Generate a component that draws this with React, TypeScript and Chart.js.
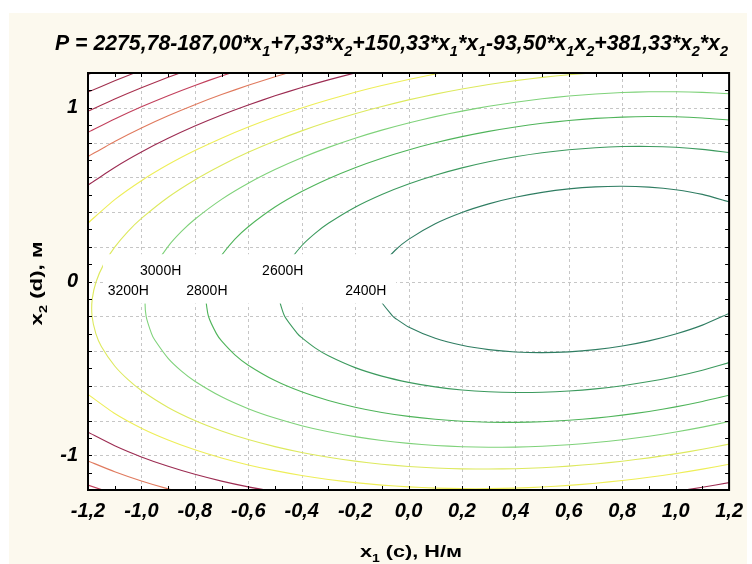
import React, { useEffect, useRef } from 'react';
import { Chart, registerables } from 'chart.js';

Chart.register(...registerables);

type Pt = [number, number];

// ---- contour levels (P, H) ----
const levels = [2300, 2400, 2500, 2600, 2700, 2800, 2900, 3000, 3100, 3200, 3300, 3400];

// ---- contour lines: [x1, x2] ----
const c2300: Pt[] = [[1.2,0.4587],[1.1,0.5015],[1.0,0.5283],[0.9,0.543],[0.8,0.5482],[0.7,0.5446],[0.6,0.5329],[0.5,0.513],[0.4,0.4845],[0.3,0.4466],[0.2,0.3971],[0.1,0.3322],[0.0,0.2426],[-0.05,0.1799],[-0.0935,0.1],[-0.1183,0.0],[-0.109,-0.1],[-0.0589,-0.2],[-0.05,-0.2113],[0.0,-0.2618],[0.1,-0.327],[0.2,-0.3673],[0.3,-0.3922],[0.4,-0.4057],[0.5,-0.4096],[0.6,-0.4051],[0.7,-0.3922],[0.8,-0.3712],[0.9,-0.3416],[1.0,-0.3023],[1.1,-0.2511],[1.2,-0.1837]];
const c2400: Pt[] = [[1.2,0.742],[1.1,0.7607],[1.0,0.7723],[0.9,0.7774],[0.8,0.7766],[0.7,0.7702],[0.6,0.7583],[0.5,0.741],[0.4,0.7179],[0.3,0.6891],[0.2,0.6539],[0.1,0.6116],[0.0,0.5612],[-0.1,0.5008],[-0.2,0.4275],[-0.3,0.3348],[-0.35,0.277],[-0.4,0.2058],[-0.4526,0.1],[-0.4795,0.0],[-0.4838,-0.1],[-0.4639,-0.2],[-0.4159,-0.3],[-0.4,-0.3232],[-0.35,-0.382],[-0.3,-0.4276],[-0.2,-0.4957],[-0.1,-0.5446],[0.0,-0.5804],[0.1,-0.6064],[0.2,-0.6241],[0.3,-0.6347],[0.4,-0.6391],[0.5,-0.6376],[0.6,-0.6305],[0.7,-0.6178],[0.8,-0.5996],[0.9,-0.576],[1.0,-0.5463],[1.1,-0.5103],[1.2,-0.467]];
const c2500: Pt[] = [[1.2,0.9298],[1.1,0.9413],[1.0,0.9478],[0.9,0.9493],[0.8,0.9463],[0.7,0.9387],[0.6,0.9267],[0.5,0.9104],[0.4,0.8895],[0.3,0.8641],[0.2,0.8337],[0.1,0.7983],[0.0,0.7572],[-0.1,0.7099],[-0.2,0.6553],[-0.3,0.592],[-0.4,0.5177],[-0.5,0.4283],[-0.6,0.3152],[-0.65,0.2434],[-0.7,0.1509],[-0.7209,0.1],[-0.7486,0.0],[-0.7583,-0.1],[-0.7491,-0.2],[-0.7193,-0.3],[-0.7,-0.3417],[-0.65,-0.422],[-0.6,-0.4816],[-0.5,-0.5701],[-0.4,-0.6351],[-0.3,-0.6848],[-0.2,-0.7235],[-0.1,-0.7537],[0.0,-0.7764],[0.1,-0.7931],[0.2,-0.8039],[0.3,-0.8097],[0.4,-0.8107],[0.5,-0.807],[0.6,-0.7989],[0.7,-0.7863],[0.8,-0.7693],[0.9,-0.7479],[1.0,-0.7218],[1.1,-0.6909],[1.2,-0.6548]];
const c2600: Pt[] = [[1.2,1.0809],[1.1,1.0887],[1.0,1.0924],[0.9,1.0918],[0.8,1.0875],[0.7,1.0793],[0.6,1.0672],[0.5,1.0514],[0.4,1.0318],[0.3,1.0083],[0.2,0.9807],[0.1,0.9488],[0.0,0.9125],[-0.1,0.8712],[-0.2,0.8247],[-0.3,0.772],[-0.4,0.7123],[-0.5,0.6443],[-0.6,0.5656],[-0.7,0.4728],[-0.8,0.3584],[-0.85,0.2881],[-0.9,0.2025],[-0.9447,0.1],[-0.9729,0.0],[-0.9856,-0.1],[-0.9824,-0.2],[-0.9622,-0.3],[-0.95,-0.337],[-0.9,-0.4423],[-0.85,-0.5157],[-0.8,-0.5738],[-0.7,-0.6636],[-0.6,-0.732],[-0.5,-0.7861],[-0.4,-0.8297],[-0.3,-0.8648],[-0.2,-0.8929],[-0.1,-0.915],[0.0,-0.9317],[0.1,-0.9436],[0.2,-0.9509],[0.3,-0.9539],[0.4,-0.953],[0.5,-0.948],[0.6,-0.9394],[0.7,-0.9269],[0.8,-0.9105],[0.9,-0.8904],[1.0,-0.8664],[1.1,-0.8383],[1.2,-0.8059]];
const c2700: Pt[] = [[0.7,1.2024],[0.6,1.1903],[0.5,1.175],[0.4,1.1561],[0.3,1.1339],[0.2,1.108],[0.1,1.0785],[0.0,1.0452],[-0.1,1.0077],[-0.2,0.9658],[-0.3,0.919],[-0.4,0.8669],[-0.5,0.8087],[-0.6,0.7434],[-0.7,0.6695],[-0.8,0.5847],[-0.9,0.4852],[-1.0,0.3631],[-1.05,0.2884],[-1.1,0.1974],[-1.1409,0.1],[-1.1693,0.0],[-1.1841,-0.1],[-1.1848,-0.2],[-1.1706,-0.3],[-1.15,-0.3739],[-1.1,-0.4864],[-1.05,-0.565],[-1.0,-0.6275],[-0.9,-0.725],[-0.8,-0.8001],[-0.7,-0.8603],[-0.6,-0.9098],[-0.5,-0.9505],[-0.4,-0.9843],[-0.3,-1.0118],[-0.2,-1.034],[-0.1,-1.0515],[0.0,-1.0644],[0.1,-1.0733],[0.2,-1.0782],[0.3,-1.0795],[0.4,-1.0773],[0.5,-1.0716],[0.6,-1.0625],[0.7,-1.05],[0.8,-1.0341],[0.9,-1.0149],[1.0,-0.9921],[1.1,-0.9659],[1.2,-0.9359]];
const c2800Upper: Pt[] = [[-1.2,0.3364],[-1.1,0.4712],[-1.0,0.5802],[-0.9,0.6728],[-0.8,0.7535],[-0.7,0.8251],[-0.6,0.8892],[-0.5,0.9469],[-0.4,0.9991],[-0.3,1.0464],[-0.2,1.0893],[-0.1,1.1279],[0.0,1.1629],[0.1,1.1942],[0.2,1.222]];
const c2800Lower: Pt[] = [[-1.2,-0.6498],[-1.1,-0.7602],[-1.0,-0.8446],[-0.9,-0.9126],[-0.8,-0.9689],[-0.7,-1.0159],[-0.6,-1.0556],[-0.5,-1.0887],[-0.4,-1.1165],[-0.3,-1.1392],[-0.2,-1.1575],[-0.1,-1.1717],[0.0,-1.1821],[0.1,-1.189],[0.2,-1.1922],[0.3,-1.1922],[0.4,-1.1891],[0.5,-1.1828],[0.6,-1.1735],[0.7,-1.1609],[0.8,-1.1454],[0.9,-1.1268],[1.0,-1.105],[1.1,-1.0801],[1.2,-1.0518]];
const c2900Upper: Pt[] = [[-1.2,0.5542],[-1.1,0.6564],[-1.0,0.7452],[-0.9,0.8238],[-0.8,0.8943],[-0.7,0.958],[-0.6,1.0157],[-0.5,1.0685],[-0.4,1.1165],[-0.3,1.1604],[-0.2,1.2005],[-0.1,1.2368]];
const c2900LowerLeft: Pt[] = [[-1.2,-0.8676],[-1.1,-0.9454],[-1.0,-1.0096],[-0.9,-1.0636],[-0.8,-1.1097],[-0.7,-1.1488],[-0.6,-1.1821],[-0.5,-1.2103]];
const c2900LowerRight: Pt[] = [[0.9,-1.2294],[1.0,-1.2083],[1.1,-1.1844],[1.2,-1.1574]];
const c3000Upper: Pt[] = [[-1.2,0.7194],[-1.1,0.8061],[-1.0,0.8837],[-0.9,0.9538],[-0.8,1.0175],[-0.7,1.0758],[-0.6,1.1292],[-0.5,1.1783],[-0.4,1.2233]];
const c3000Lower: Pt[] = [[-1.2,-1.0328],[-1.1,-1.0951],[-1.0,-1.1481],[-0.9,-1.1936],[-0.8,-1.2329]];
const c3100Upper: Pt[] = [[-1.2,0.8581],[-1.1,0.9352],[-1.0,1.0055],[-0.9,1.0697],[-0.8,1.1286],[-0.7,1.1829],[-0.6,1.2329]];
const c3100Lower: Pt[] = [[-1.2,-1.1715],[-1.1,-1.2242]];
const c3200Upper: Pt[] = [[-1.2,0.98],[-1.1,1.0505],[-1.0,1.1154],[-0.9,1.1752],[-0.8,1.2304]];
const c3300Upper: Pt[] = [[-1.2,1.09],[-1.1,1.1556],[-1.0,1.2164]];
const c3400Upper: Pt[] = [[-1.2,1.1911],[-1.1,1.2528]];

const contourLines: { level: number; pts: Pt[] }[] = [
  { level: 2300, pts: c2300 },
  { level: 2400, pts: c2400 },
  { level: 2500, pts: c2500 },
  { level: 2600, pts: c2600 },
  { level: 2700, pts: c2700 },
  { level: 2800, pts: c2800Upper },
  { level: 2800, pts: c2800Lower },
  { level: 2900, pts: c2900Upper },
  { level: 2900, pts: c2900LowerLeft },
  { level: 2900, pts: c2900LowerRight },
  { level: 3000, pts: c3000Upper },
  { level: 3000, pts: c3000Lower },
  { level: 3100, pts: c3100Upper },
  { level: 3100, pts: c3100Lower },
  { level: 3200, pts: c3200Upper },
  { level: 3300, pts: c3300Upper },
  { level: 3400, pts: c3400Upper },
];

// ---- contour label texts and their anchor positions (x1, x2) ----
const labelTexts = ['3000H', '2600H', '3200H', '2800H', '2400H'];
const labelX1 = [-0.928, -0.471, -1.049, -0.755, -0.16];
const labelX2 = [0.059, 0.059, -0.055, -0.055, -0.055];
const labelBandX1 = [-1.144, -0.0465];
const labelBandX2 = [-0.127, 0.157];

// ---- axes ----
const xTickValues = [-1.2, -1.0, -0.8, -0.6, -0.4, -0.2, 0.0, 0.2, 0.4, 0.6, 0.8, 1.0, 1.2];
const yTickValues = [-1, 0, 1];
const gridValues = [-1.0, -0.8, -0.6, -0.4, -0.2, 0.0, 0.2, 0.4, 0.6, 0.8, 1.0];
const minorTickValues = [-1.1, -1.0, -0.9, -0.8, -0.7, -0.6, -0.5, -0.4, -0.3, -0.2, -0.1, 0.0, 0.1, 0.2, 0.3, 0.4, 0.5, 0.6, 0.7, 0.8, 0.9, 1.0, 1.1];

// ---- styles ----
const levelColors: Record<number, string> = {
  2300: '#2f7d62',
  2400: '#3c9a5e',
  2500: '#4fb45a',
  2600: '#7fd27a',
  2700: '#dde95e',
  2800: '#eeee58',
  2900: '#9c2c52',
  3000: '#e07a5e',
  3100: '#c2405c',
  3200: '#a8304e',
  3300: '#a0304e',
  3400: '#902848',
};

const FAMILY = "'Liberation Sans', Arial, sans-serif";

type Part = { t: string; sub?: boolean };

function drawRich(
  ctx: CanvasRenderingContext2D,
  parts: Part[],
  size: number,
  style: string,
  cx: number,
  cy: number,
  targetW: number,
  rotate: boolean
) {
  const subSize = Math.round(size * 0.66);
  const fontMain = `${style} ${size}px ${FAMILY}`;
  const fontSub = `${style} ${subSize}px ${FAMILY}`;
  const widths = parts.map((p) => {
    ctx.font = p.sub ? fontSub : fontMain;
    return ctx.measureText(p.t).width;
  });
  const W = widths.reduce((a, b) => a + b, 0);
  const sx = targetW / W;
  ctx.save();
  ctx.translate(cx, cy);
  if (rotate) ctx.rotate(-Math.PI / 2);
  ctx.scale(sx, 1);
  ctx.fillStyle = '#000';
  ctx.textBaseline = 'alphabetic';
  ctx.textAlign = 'left';
  let x = -W / 2;
  parts.forEach((p, i) => {
    ctx.font = p.sub ? fontSub : fontMain;
    ctx.fillText(p.t, x, p.sub ? size * 0.28 : 0);
    x += widths[i];
  });
  ctx.restore();
}

const titleParts: Part[] = [
  { t: 'P = 2275,78-187,00*x' }, { t: '1', sub: true },
  { t: '+7,33*x' }, { t: '2', sub: true },
  { t: '+150,33*x' }, { t: '1', sub: true },
  { t: '*x' }, { t: '1', sub: true },
  { t: '-93,50*x' }, { t: '1', sub: true },
  { t: 'x' }, { t: '2', sub: true },
  { t: '+381,33*x' }, { t: '2', sub: true },
  { t: '*x' }, { t: '2', sub: true },
];
const xTitleParts: Part[] = [{ t: 'x' }, { t: '1', sub: true }, { t: ' (c), Н/м' }];
const yTitleParts: Part[] = [{ t: 'x' }, { t: '2', sub: true }, { t: ' (d), м' }];

const decorPlugin = {
  id: 'decor',
  beforeDraw(chart: any) {
    const { ctx, width, height, chartArea: a } = chart;
    ctx.save();
    ctx.fillStyle = '#ffffff';
    ctx.fillRect(0, 0, width, height);
    ctx.fillStyle = '#fcf9ee';
    ctx.fillRect(9, 13, 738, height - 13);
    ctx.fillStyle = '#ffffff';
    ctx.fillRect(a.left, a.top, a.right - a.left, a.bottom - a.top);
    ctx.restore();
  },
  beforeDatasetsDraw(chart: any) {
    const { ctx, chartArea: a, scales } = chart;
    const xs = scales.x;
    const ys = scales.y;
    ctx.save();
    ctx.strokeStyle = '#c6c6c6';
    ctx.lineWidth = 1;
    ctx.setLineDash([3, 3]);
    gridValues.forEach((v) => {
      const px = Math.round(xs.getPixelForValue(v)) + 0.5;
      ctx.beginPath();
      ctx.moveTo(px, a.top);
      ctx.lineTo(px, a.bottom);
      ctx.stroke();
      const py = Math.round(ys.getPixelForValue(v)) + 0.5;
      ctx.beginPath();
      ctx.moveTo(a.left, py);
      ctx.lineTo(a.right, py);
      ctx.stroke();
    });
    ctx.restore();
  },
  afterDatasetsDraw(chart: any) {
    const { ctx, chartArea: a, scales } = chart;
    const xs = scales.x;
    const ys = scales.y;
    ctx.save();
    // label band (white background behind the contour labels)
    const bx0 = xs.getPixelForValue(labelBandX1[0]);
    const bx1 = xs.getPixelForValue(labelBandX1[1]);
    const by0 = ys.getPixelForValue(labelBandX2[1]);
    const by1 = ys.getPixelForValue(labelBandX2[0]);
    ctx.fillStyle = '#ffffff';
    ctx.fillRect(bx0, by0, bx1 - bx0, by1 - by0);
    // labels
    ctx.fillStyle = '#000';
    ctx.font = `14px ${FAMILY}`;
    ctx.textAlign = 'center';
    ctx.textBaseline = 'middle';
    labelTexts.forEach((t, i) => {
      ctx.fillText(t, xs.getPixelForValue(labelX1[i]), ys.getPixelForValue(labelX2[i]));
    });
    // frame
    ctx.strokeStyle = '#000';
    ctx.lineWidth = 2;
    ctx.strokeRect(a.left, a.top, a.right - a.left, a.bottom - a.top);
    // inside tick marks
    ctx.lineWidth = 1;
    const L = 4;
    minorTickValues.forEach((v) => {
      const px = Math.round(xs.getPixelForValue(v)) + 0.5;
      ctx.beginPath();
      ctx.moveTo(px, a.bottom);
      ctx.lineTo(px, a.bottom - L);
      ctx.moveTo(px, a.top);
      ctx.lineTo(px, a.top + L);
      ctx.stroke();
      const py = Math.round(ys.getPixelForValue(v)) + 0.5;
      ctx.beginPath();
      ctx.moveTo(a.left, py);
      ctx.lineTo(a.left + L, py);
      ctx.moveTo(a.right, py);
      ctx.lineTo(a.right - L, py);
      ctx.stroke();
    });
    ctx.restore();
  },
  afterDraw(chart: any) {
    const { ctx } = chart;
    drawRich(ctx, titleParts, 22, 'italic bold', 391.5, 50, 673, false);
    drawRich(ctx, xTitleParts, 17, 'bold', 411, 557, 102, false);
    drawRich(ctx, yTitleParts, 17, 'bold', 42, 283.5, 84, true);
  },
};

const fmtX = (v: number) => v.toFixed(1).replace('.', ',').replace('-0,0', '0,0');

export default function App() {
  const canvasRef = useRef<HTMLCanvasElement | null>(null);

  useEffect(() => {
    const canvas = canvasRef.current;
    if (!canvas) return;
    const tickFont = { family: FAMILY, size: 20, weight: 'bold' as const, style: 'italic' as const };
    const chart = new Chart(canvas, {
      type: 'scatter',
      data: {
        datasets: contourLines.map((c) => ({
          label: String(c.level),
          data: c.pts.map(([x, y]) => ({ x, y })),
          showLine: true,
          borderColor: levelColors[c.level],
          backgroundColor: levelColors[c.level],
          borderWidth: 1.1,
          pointRadius: 0,
          pointHoverRadius: 0,
          fill: false,
          tension: 0.2,
        })),
      },
      options: {
        animation: false,
        responsive: false,
        events: [],
        layout: { padding: { top: 73, right: 19, left: 0, bottom: 0 } },
        plugins: {
          legend: { display: false },
          tooltip: { enabled: false },
          title: { display: false },
        },
        scales: {
          x: {
            type: 'linear',
            min: -1.2,
            max: 1.2,
            afterBuildTicks: (s: any) => {
              s.ticks = xTickValues.map((v) => ({ value: v }));
            },
            afterFit: (s: any) => {
              s.height = 74;
            },
            grid: { display: false, drawTicks: false },
            border: { display: false },
            ticks: {
              padding: 9,
              color: '#000',
              font: tickFont,
              autoSkip: false,
              maxRotation: 0,
              callback: (v: any) => fmtX(Number(v)),
            },
          },
          y: {
            type: 'linear',
            min: -1.2,
            max: 1.2,
            afterBuildTicks: (s: any) => {
              s.ticks = yTickValues.map((v) => ({ value: v }));
            },
            afterFit: (s: any) => {
              s.width = 88;
            },
            grid: { display: false, drawTicks: false },
            border: { display: false },
            ticks: {
              padding: 10,
              color: '#000',
              font: tickFont,
              autoSkip: false,
              callback: (v: any) => String(Number(v)),
            },
          },
        },
      },
      plugins: [decorPlugin],
    });
    return () => chart.destroy();
  }, []);

  return (
    <div style={{ position: 'fixed', left: 0, top: 0, width: 752, height: 564 }}>
      <canvas ref={canvasRef} width={752} height={564} style={{ display: 'block' }} />
    </div>
  );
}
